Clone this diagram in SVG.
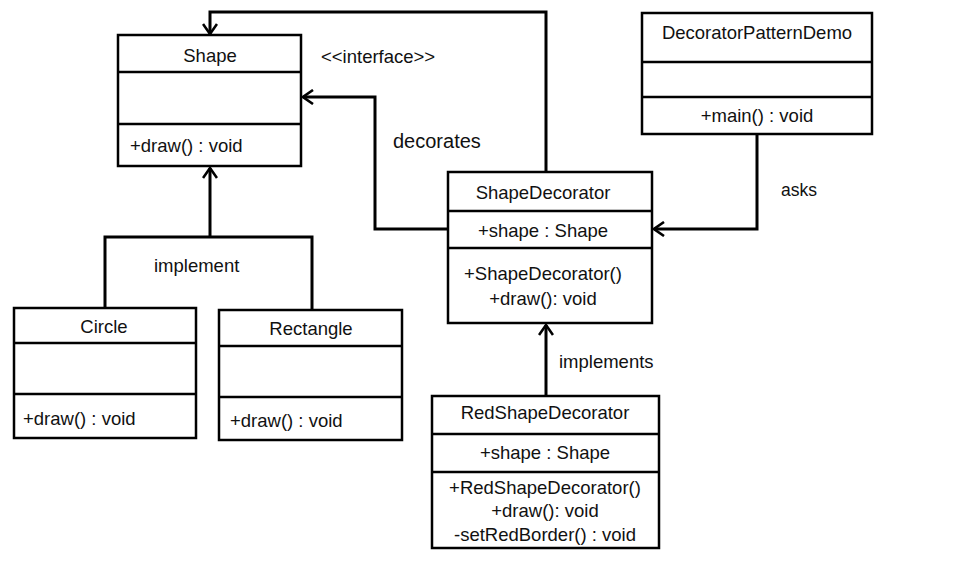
<svg xmlns="http://www.w3.org/2000/svg" width="979" height="564" viewBox="0 0 979 564">
  <defs>
    <!-- open V arrowhead used by every connector -->
    <marker id="arrow" viewBox="0 0 12 16" refX="11" refY="8" markerWidth="12" markerHeight="16" markerUnits="userSpaceOnUse" orient="auto">
      <path d="M1,1 L11,8 L1,15" fill="none" stroke="#000" stroke-width="2.6"/>
    </marker>
  </defs>
  <style>
    .box { fill: #fff; stroke: #000; stroke-width: 2.5; }
    .div { stroke: #000; stroke-width: 2.5; }
    .conn { fill: none; stroke: #000; stroke-width: 3; }
    text { font-family: "Liberation Sans", Arial, sans-serif; font-size: 18.5px; fill: #111; }
    .c { text-anchor: middle; }
  </style>
  <rect width="979" height="564" fill="#fff"/>

  <g id="connectors">
    <!-- ShapeDecorator aggregates Shape (top route) -->
    <polyline class="conn" points="546,172 546,12 210,12 210,34" marker-end="url(#arrow)"/>
    <!-- decorates -->
    <polyline class="conn" points="448,229 375,229 375,97 303,97" marker-end="url(#arrow)"/>
    <!-- implement: Circle / Rectangle to Shape -->
    <polyline class="conn" points="105,308 105,237 312,237 312,310"/>
    <line class="conn" x1="210" y1="237" x2="210" y2="168" marker-end="url(#arrow)"/>
    <!-- implements: RedShapeDecorator to ShapeDecorator -->
    <line class="conn" x1="546" y1="396" x2="546" y2="325" marker-end="url(#arrow)"/>
    <!-- asks -->
    <polyline class="conn" points="757,134 757,229 654,229" marker-end="url(#arrow)"/>
  </g>

  <g id="labels">
    <text x="321" y="63">&lt;&lt;interface&gt;&gt;</text>
    <text x="393" y="148" style="font-size:20px">decorates</text>
    <text x="154" y="272">implement</text>
    <text x="559" y="368">implements</text>
    <text x="781" y="196" style="font-size:17.5px">asks</text>
  </g>

  <g id="shape">
    <rect class="box" x="118" y="35" width="183" height="131"/>
    <line class="div" x1="118" y1="72" x2="301" y2="72"/>
    <line class="div" x1="118" y1="124" x2="301" y2="124"/>
    <text class="c" x="210" y="62">Shape</text>
    <text x="130" y="152">+draw()  : void</text>
  </g>

  <g id="circle">
    <rect class="box" x="14" y="308" width="182" height="130"/>
    <line class="div" x1="14" y1="343" x2="196" y2="343"/>
    <line class="div" x1="14" y1="394" x2="196" y2="394"/>
    <text class="c" x="104" y="333">Circle</text>
    <text x="23" y="425">+draw()  : void</text>
  </g>

  <g id="rectangle">
    <rect class="box" x="219" y="310" width="183" height="130"/>
    <line class="div" x1="219" y1="346" x2="402" y2="346"/>
    <line class="div" x1="219" y1="397" x2="402" y2="397"/>
    <text class="c" x="311" y="335">Rectangle</text>
    <text x="230" y="427">+draw()  : void</text>
  </g>

  <g id="shapeDecorator">
    <rect class="box" x="448" y="172" width="204" height="151"/>
    <line class="div" x1="448" y1="211" x2="652" y2="211"/>
    <line class="div" x1="448" y1="248" x2="652" y2="248"/>
    <text class="c" x="543" y="199">ShapeDecorator</text>
    <text class="c" x="543" y="237">+shape  : Shape</text>
    <text class="c" x="543" y="280">+ShapeDecorator()</text>
    <text class="c" x="543" y="305">+draw(): void</text>
  </g>

  <g id="redShapeDecorator">
    <rect class="box" x="432" y="396" width="227" height="152"/>
    <line class="div" x1="432" y1="434" x2="659" y2="434"/>
    <line class="div" x1="432" y1="472" x2="659" y2="472"/>
    <text class="c" x="545" y="419">RedShapeDecorator</text>
    <text class="c" x="545" y="459">+shape  : Shape</text>
    <text class="c" x="545" y="494">+RedShapeDecorator()</text>
    <text class="c" x="545" y="517">+draw(): void</text>
    <text class="c" x="545" y="541">-setRedBorder()  : void</text>
  </g>

  <g id="decoratorPatternDemo">
    <rect class="box" x="642" y="13" width="230" height="121"/>
    <line class="div" x1="642" y1="62" x2="872" y2="62"/>
    <line class="div" x1="642" y1="97" x2="872" y2="97"/>
    <text class="c" x="757" y="39">DecoratorPatternDemo</text>
    <text class="c" x="757" y="122">+main()  : void</text>
  </g>
</svg>
